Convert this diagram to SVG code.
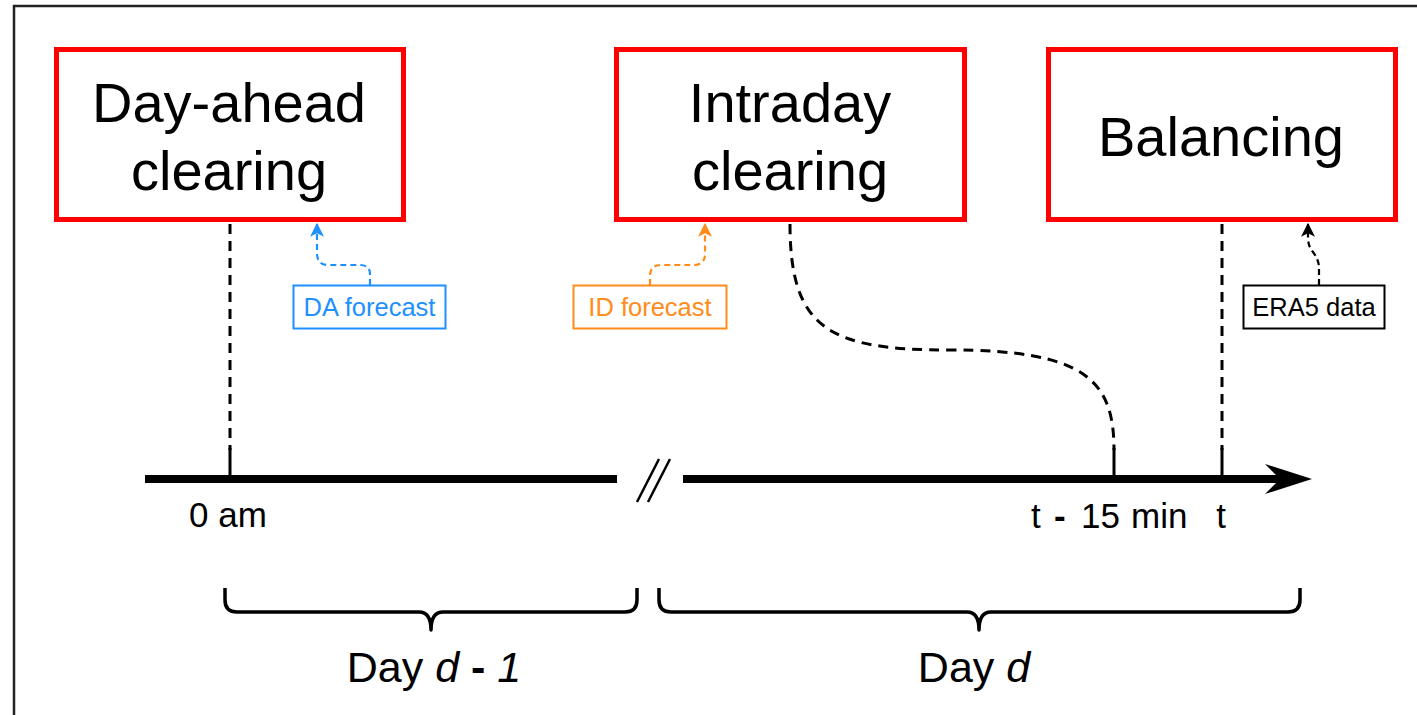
<svg xmlns="http://www.w3.org/2000/svg" width="1417" height="715" viewBox="0 0 1417 715">
  <defs>
    <style>
      text { font-family: "Liberation Sans", Arial, sans-serif; fill: #000; }
      .stage { fill: #fff; stroke: #ff0000; stroke-width: 5; }
      .stage-label { font-size: 56px; text-anchor: middle; }
      .tick { stroke: #000; stroke-width: 3; fill: none; }
      .guide { stroke: #000; stroke-width: 3; fill: none; stroke-dasharray: 10 7; }
      .axis { stroke: #000; stroke-width: 8; fill: none; }
      .brace { stroke: #000; stroke-width: 3.5; fill: none; stroke-linejoin: round; }
      .axis-label { font-size: 35px; }
      .day-label { font-size: 43px; text-anchor: middle; }
      .src { fill: #fff; stroke-width: 2; }
      .src-label { font-size: 25.5px; text-anchor: middle; }
      .feed { fill: none; stroke-width: 2.2; stroke-dasharray: 6 4; }
    </style>
    <marker id="head-blue" viewBox="0 0 12 12" refX="11" refY="6" markerWidth="14" markerHeight="14" markerUnits="userSpaceOnUse" orient="auto">
      <path d="M0,0 L12,6 L0,12 L3,6 Z" fill="#1e90ff"/>
    </marker>
    <marker id="head-orange" viewBox="0 0 12 12" refX="11" refY="6" markerWidth="14" markerHeight="14" markerUnits="userSpaceOnUse" orient="auto">
      <path d="M0,0 L12,6 L0,12 L3,6 Z" fill="#ff8c1a"/>
    </marker>
    <marker id="head-black" viewBox="0 0 12 12" refX="11" refY="6" markerWidth="14" markerHeight="14" markerUnits="userSpaceOnUse" orient="auto">
      <path d="M0,0 L12,6 L0,12 L3,6 Z" fill="#000"/>
    </marker>
  </defs>

  <rect x="0" y="0" width="1417" height="715" fill="#fff"/>
  <!-- frame -->
  <rect x="14" y="6" width="1420" height="720" fill="none" stroke="#222" stroke-width="2.5"/>

  <!-- connectors: guides, timeline, braces and data feeds -->
  <g id="connectors">
    <path class="guide" d="M230,224 V450"/>
    <path class="guide" d="M1222,224 V450"/>
    <path class="guide" d="M790,224 C790,330 830,350 950,350 C1085,350 1114,380 1114,450"/>
    <path class="tick" d="M230,448 V479 M1114,448 V479 M1222,448 V479"/>

    <path class="axis" d="M145,479 H617"/>
    <path class="axis" d="M683,479 H1282"/>
    <path d="M1312,479 L1265,464 L1280,479 L1265,494 Z" fill="#000"/>
    <path d="M637,502 L659,459 M648,502 L670,459" stroke="#000" stroke-width="2.5"/>

    <path class="brace" d="M225,588 V600 Q225,612 237,612 H419 Q431,612 431,630 Q431,612 443,612 H625 Q637,612 637,600 V588"/>
    <path class="brace" d="M659,588 V600 Q659,612 671,612 H967 Q979,612 979,630 Q979,612 991,612 H1288 Q1300,612 1300,600 V588"/>

    <path class="feed" stroke="#1e90ff" marker-end="url(#head-blue)" d="M370,285 V274 Q370,265 360,265 H328 Q317,265 317,253 V224"/>
    <path class="feed" stroke="#ff8c1a" marker-end="url(#head-orange)" d="M650,285 V276 Q650,265 661,265 H694 Q705,265 705,254 V224"/>
    <path class="feed" stroke="#000" marker-end="url(#head-black)" d="M1319,285 V268 Q1319,260 1313,252 Q1308,246 1308,238 V224"/>
  </g>

  <g id="day-ahead">
    <rect class="stage" x="56.5" y="49.5" width="347" height="170"/>
    <text class="stage-label" x="229" y="122">Day-ahead</text>
    <text class="stage-label" x="229" y="190">clearing</text>
  </g>

  <g id="intraday">
    <rect class="stage" x="616.5" y="49.5" width="348" height="170"/>
    <text class="stage-label" x="790" y="122">Intraday</text>
    <text class="stage-label" x="790" y="190">clearing</text>
  </g>

  <g id="balancing">
    <rect class="stage" x="1048.5" y="49.5" width="347" height="170"/>
    <text class="stage-label" x="1221" y="156">Balancing</text>
  </g>

  <g id="da-forecast">
    <rect class="src" stroke="#1e90ff" x="293.5" y="285.5" width="152" height="43"/>
    <text class="src-label" x="369.5" y="316" style="fill:#1e90ff">DA forecast</text>
  </g>

  <g id="id-forecast">
    <rect class="src" stroke="#ff8c1a" x="573.5" y="285.5" width="153" height="43"/>
    <text class="src-label" x="650" y="316" style="fill:#ff8c1a">ID forecast</text>
  </g>

  <g id="era5-data">
    <rect class="src" stroke="#000" x="1243.5" y="285.5" width="141" height="43"/>
    <text class="src-label" x="1314" y="316">ERA5 data</text>
  </g>

  <g id="axis-labels">
    <text class="axis-label" x="228" y="527" text-anchor="middle">0 am</text>
    <text class="axis-label" x="1031" y="528">t<tspan x="1054" font-weight="bold">-</tspan><tspan x="1081">15</tspan><tspan x="1131">min</tspan></text>
    <text class="axis-label" x="1221" y="528" text-anchor="middle">t</text>
  </g>

  <g id="day-labels">
    <text class="day-label" x="434" y="682">Day <tspan font-style="italic">d</tspan> <tspan font-weight="bold">-</tspan> <tspan font-style="italic">1</tspan></text>
    <text class="day-label" x="974" y="682">Day <tspan font-style="italic">d</tspan></text>
  </g>
</svg>
